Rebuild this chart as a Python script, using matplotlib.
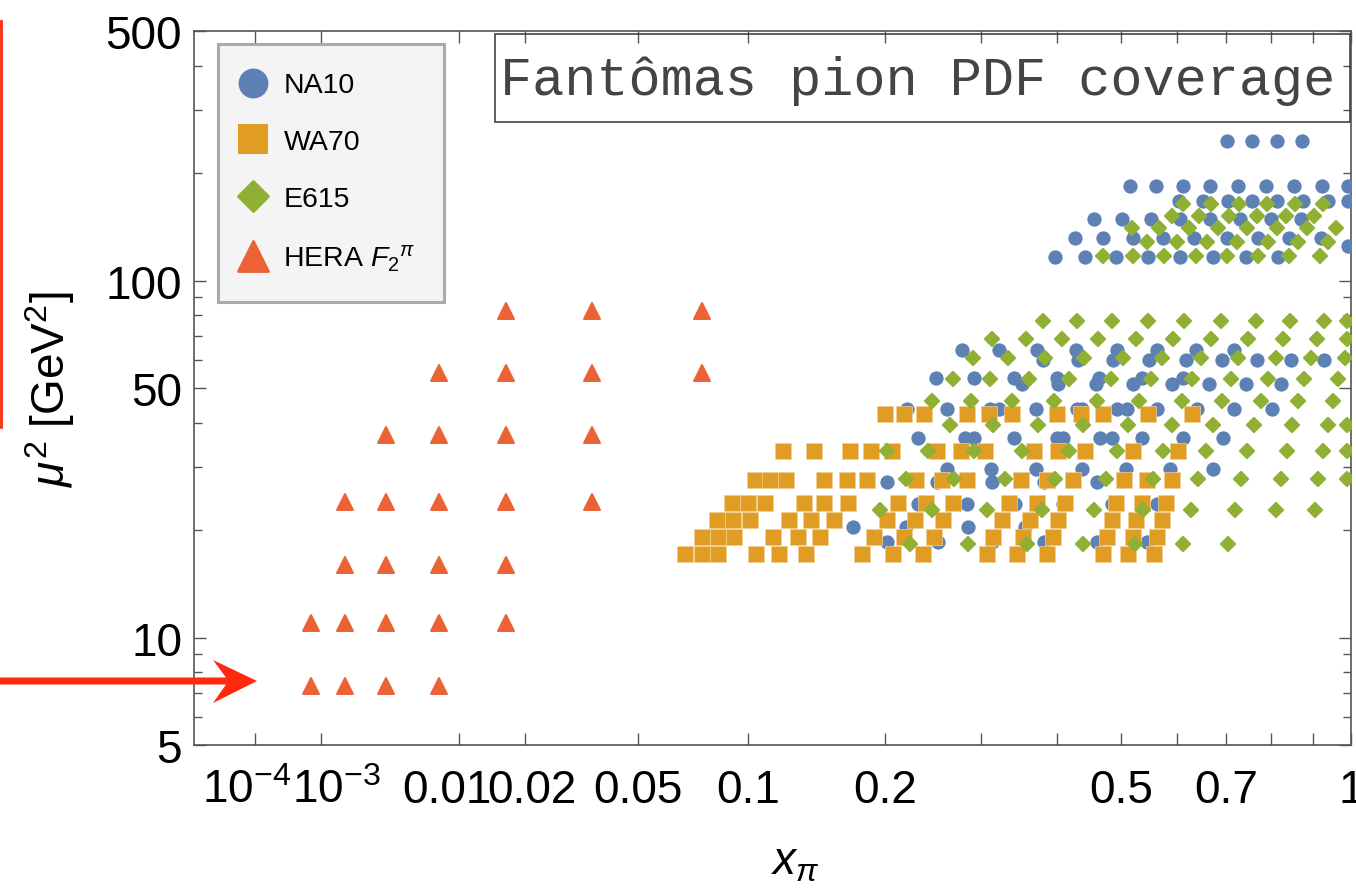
import numpy as np
import matplotlib.pyplot as plt
from matplotlib.lines import Line2D
from matplotlib.markers import MarkerStyle
from matplotlib.patches import Polygon, Rectangle
from matplotlib.transforms import ScaledTranslation

plt.rcParams["font.family"] = ["Liberation Sans", "DejaVu Sans"]
plt.rcParams["mathtext.fontset"] = "custom"
plt.rcParams["mathtext.rm"] = "Liberation Sans"
plt.rcParams["mathtext.it"] = "Liberation Sans:italic"
plt.rcParams["mathtext.bf"] = "Liberation Sans:bold"

BLUE = "#5e81b5"
ORANGE = "#e19c24"
GREEN = "#8fb032"
RED = "#eb6235"
ARROW_RED = "#ff2a0e"
FRAME = "#555555"

# each experiment: one mu^2 value per row, and the x_pi values in that row
NA10_MU2 = [245.5, 184.4, 167.4, 148.7, 131.6, 125.2, 116.6,
            64.0, 59.9, 53.3, 51.3, 43.7, 36.2, 29.7, 27.2, 23.7, 20.4, 18.5]
NA10_X = [
    [0.702, 0.756, 0.814, 0.874],
    [0.516, 0.562, 0.613, 0.666, 0.725, 0.788, 0.854, 0.924, 0.992],
    [0.605, 0.652, 0.704, 0.756, 0.814, 0.876, 0.939, 0.992],
    [0.456, 0.502, 0.553, 0.607, 0.666, 0.730, 0.800, 0.871],
    [0.427, 0.471, 0.521, 0.575, 0.634, 0.702, 0.770, 0.842, 0.921],
    [0.992],
    [0.397, 0.442, 0.492, 0.547, 0.607, 0.673, 0.743, 0.816],
    [0.278, 0.322, 0.372, 0.428, 0.494, 0.564, 0.638, 0.717],
    [0.380, 0.431, 0.487, 0.549, 0.618, 0.691, 0.767, 0.847, 0.929],
    [0.250, 0.292, 0.341, 0.400, 0.464, 0.537, 0.613],
    [0.352, 0.402, 0.459, 0.521, 0.592, 0.664, 0.743, 0.823],
    [0.220, 0.261, 0.311, 0.322, 0.371, 0.430, 0.437, 0.494, 0.511,
     0.564, 0.640, 0.717, 0.802],
    [0.231, 0.281, 0.292, 0.341, 0.400, 0.409, 0.466, 0.485, 0.537,
     0.613, 0.693],
    [0.261, 0.312, 0.371, 0.437, 0.509, 0.588, 0.673],
    [0.202, 0.251, 0.313, 0.382, 0.461],
    [0.231, 0.283, 0.342, 0.409, 0.485, 0.564],
    [0.172, 0.219, 0.285, 0.356],
    [0.202, 0.252, 0.313, 0.382, 0.461, 0.546],
]

WA70_MU2 = [42.3, 33.2, 27.7, 23.8, 21.4, 19.1, 17.1]
WA70_X = [
    [0.200, 0.217, 0.237, 0.284, 0.310, 0.339, 0.400, 0.436, 0.471,
     0.547, 0.630],
    [0.121, 0.142, 0.170, 0.187, 0.206, 0.251, 0.277, 0.305, 0.368,
     0.402, 0.442, 0.521, 0.603],
    [0.104, 0.113, 0.123, 0.150, 0.167, 0.184, 0.229, 0.256, 0.284,
     0.350, 0.386, 0.424, 0.505, 0.546, 0.592],
    [0.0915, 0.100, 0.110, 0.135, 0.150, 0.168, 0.212, 0.239, 0.268,
     0.335, 0.372, 0.412, 0.492, 0.537, 0.580],
    [0.0837, 0.0920, 0.101, 0.125, 0.140, 0.157, 0.202, 0.228, 0.257,
     0.326, 0.362, 0.402, 0.485, 0.526, 0.573],
    [0.0764, 0.0842, 0.0925, 0.115, 0.131, 0.147, 0.190, 0.217, 0.247,
     0.315, 0.353, 0.394, 0.477, 0.521, 0.564],
    [0.0687, 0.0764, 0.0842, 0.105, 0.119, 0.137, 0.180, 0.207, 0.236,
     0.307, 0.345, 0.386, 0.471, 0.512, 0.558],
]

E615_MU2 = [163.8, 151.9, 140.1, 127.9, 116.9,
            77.2, 68.6, 60.6, 53.0, 46.1, 39.4, 33.4, 27.8, 22.8, 18.3]
E615_X = [
    [0.613, 0.668, 0.728, 0.790, 0.857, 0.926],
    [0.592, 0.644, 0.706, 0.767, 0.835, 0.904],
    [0.519, 0.567, 0.624, 0.683, 0.745, 0.814, 0.886, 0.960],
    [0.546, 0.601, 0.660, 0.723, 0.793, 0.864, 0.939],
    [0.471, 0.521, 0.577, 0.638, 0.702, 0.770, 0.842, 0.919],
    [0.380, 0.429, 0.486, 0.548, 0.615, 0.688, 0.765, 0.844, 0.929, 0.988],
    [0.313, 0.357, 0.407, 0.463, 0.526, 0.594, 0.668, 0.747, 0.828,
     0.911, 0.989],
    [0.291, 0.333, 0.383, 0.441, 0.504, 0.573, 0.648, 0.725, 0.811,
     0.896, 0.984],
    [0.268, 0.311, 0.361, 0.418, 0.484, 0.553, 0.630, 0.710, 0.793,
     0.879, 0.965],
    [0.245, 0.288, 0.339, 0.396, 0.461, 0.531, 0.611, 0.691, 0.776,
     0.864, 0.952],
    [0.265, 0.315, 0.373, 0.439, 0.512, 0.592, 0.673, 0.761, 0.849,
     0.939, 0.989],
    [0.202, 0.241, 0.292, 0.352, 0.418, 0.494, 0.575, 0.658, 0.745,
     0.837, 0.926, 0.989],
    [0.219, 0.269, 0.330, 0.397, 0.476, 0.556, 0.642, 0.732, 0.823,
     0.914, 0.989],
    [0.195, 0.245, 0.307, 0.379, 0.456, 0.538, 0.628, 0.719, 0.811, 0.906],
    [0.223, 0.285, 0.358, 0.439, 0.524, 0.613, 0.704],
]

HERA_MU2 = [7.3, 11, 16, 24, 37, 55, 82]
HERA_X = [
    [0.00078, 0.00172, 0.00365, 0.00782],
    [0.00078, 0.00172, 0.00365, 0.00782, 0.0166],
    [0.00172, 0.00365, 0.00782, 0.0166],
    [0.00172, 0.00365, 0.00782, 0.0166, 0.0356],
    [0.00365, 0.00782, 0.0166, 0.0356],
    [0.00782, 0.0166, 0.0356, 0.0763],
    [0.0166, 0.0356, 0.0763],
]

X_TICKS = [1e-4, 1e-3, 0.01, 0.02, 0.05, 0.1, 0.2, 0.5, 0.7, 1]
X_TICK_LABELS = [r"$10^{-4}$", r"$10^{-3}$", "0.01", "0.02", "0.05",
                 "0.1", "0.2", "0.5", "0.7", "1"]
X_MINOR = [0.3, 0.4, 0.6, 0.8, 0.9]
Y_TICKS = [5, 10, 50, 100, 500]
Y_MINOR = [6, 7, 8, 9, 20, 30, 40, 60, 70, 80, 90, 200, 300, 400]

# sideways nudges (points) for the crowded labels at small x
X_LABEL_NUDGE = {r"$10^{-4}$": -6, r"$10^{-3}$": 11, "0.01": -9, "0.02": 5}

POWER = 0.32  # x axis is drawn in x**POWER


def flatten(mu2, rows):
    xs = np.concatenate([np.asarray(r, float) for r in rows])
    ys = np.concatenate([np.full(len(r), m, float) for m, r in zip(mu2, rows)])
    return xs, ys


def fwd(x):
    x = np.asarray(x, float)
    return np.sign(x) * np.abs(x) ** POWER


def inv(y):
    y = np.asarray(y, float)
    return np.sign(y) * np.abs(y) ** (1.0 / POWER)


fig = plt.figure(figsize=(13.56, 8.95), dpi=100)
ax = fig.add_axes([194 / 1356, 149 / 895, 1157 / 1356, 714 / 895])
ax.set_xscale("function", functions=(fwd, inv))
ax.set_yscale("log")
ax.set_xlim(0, 1)
ax.set_ylim(5, 500)

diamond = MarkerStyle("D", joinstyle="round")
triangle = MarkerStyle("^", joinstyle="round")

x, y = flatten(NA10_MU2, NA10_X)
ax.plot(x, y, ls="none", marker="o", ms=10.3, color=BLUE, mew=0, zorder=3)
x, y = flatten(WA70_MU2, WA70_X)
ax.plot(x, y, ls="none", marker="s", ms=11.3, color=ORANGE, mec="#f0cf95",
        mew=0.5, zorder=4)
x, y = flatten(E615_MU2, E615_X)
ax.plot(x, y, ls="none", marker=diamond, ms=7.4, color=GREEN, mec=GREEN,
        mew=1.6, zorder=5)
x, y = flatten(HERA_MU2, HERA_X)
ax.plot(x, y, ls="none", marker=triangle, ms=11, color=RED, mec=RED,
        mew=1.4, zorder=5)

# frame, ticks
for sp in ax.spines.values():
    sp.set_color(FRAME)
    sp.set_linewidth(1.2)
ax.set_xticks(X_TICKS)
ax.set_xticklabels(X_TICK_LABELS)
ax.set_xticks(X_MINOR, minor=True)
ax.set_yticks(Y_TICKS)
ax.set_yticklabels([str(v) for v in Y_TICKS])
ax.set_yticks(Y_MINOR, minor=True)
ax.yaxis.set_minor_formatter(plt.NullFormatter())
ax.tick_params(which="both", direction="in", top=True, right=True,
               color=FRAME, width=1.0, labelsize=33)
ax.tick_params(axis="x", which="both", length=8.6, pad=41)
ax.tick_params(axis="y", which="major", length=8.6, pad=8.6)
ax.tick_params(axis="y", which="minor", length=5.8)
for lab in ax.get_xticklabels():
    lab.set_verticalalignment("baseline")
    dx = X_LABEL_NUDGE.get(lab.get_text(), 0)
    if dx:
        lab.set_transform(lab.get_transform()
                          + ScaledTranslation(dx / 72, 0, fig.dpi_scale_trans))

ax.set_xlabel(r"$x_\pi$", fontsize=33)
ax.xaxis.set_label_coords(0.520, -0.133)
ax.set_ylabel(r"$\mu^2$ [GeV$^2$]", fontsize=33)
ax.yaxis.set_label_coords(-0.101, 0.50)

# legend
handles = [
    Line2D([], [], ls="none", marker="o", ms=21.5, color=BLUE, mew=0),
    Line2D([], [], ls="none", marker="s", ms=21.5, color=ORANGE, mew=0),
    Line2D([], [], ls="none", marker=diamond, ms=15, color=GREEN,
           mec=GREEN, mew=2),
    Line2D([], [], ls="none", marker=triangle, ms=21, color=RED,
           mec=RED, mew=2),
]
labels = ["NA10", "WA70", "E615", r"HERA $F_2{}^{\pi}$"]
leg = ax.legend(handles, labels, loc="upper left",
                bbox_to_anchor=(0.0207, 0.9818), borderaxespad=0,
                fontsize=20.5, frameon=True, fancybox=False, framealpha=1,
                borderpad=1.0, labelspacing=1.08, handlelength=0.49,
                handletextpad=0.81)
leg.get_frame().set_facecolor("#f4f4f4")
leg.get_frame().set_edgecolor("#aaaaaa")
leg.get_frame().set_linewidth(2.2)
leg.set_zorder(6)

# caption box
ax.add_patch(Rectangle((0.2602, 0.8725), 0.7389, 0.1233,
                       transform=ax.transAxes, fill=False,
                       edgecolor="#444444", lw=1.2, zorder=6))
ax.text(0.6258, 0.9118, "Fantômas pion PDF coverage",
        transform=ax.transAxes, ha="center", va="baseline",
        fontsize=38.5, family="Liberation Mono", color="#444444", zorder=6)

# red guide marks at the left edge
fig.add_artist(Line2D([0.0009, 0.0009], [1 - 22 / 895, 1 - 428 / 895],
                      transform=fig.transFigure, color=ARROW_RED, lw=2.0))
arrow_px = [(0, 678.5), (226, 678.5), (213, 661), (257, 682),
            (213, 704), (226, 685.5), (0, 685.5)]
fig.add_artist(Polygon([(px / 1356, 1 - py / 895) for px, py in arrow_px],
                       closed=True, transform=fig.transFigure,
                       facecolor=ARROW_RED, edgecolor="none"))

fig.savefig("out.png", dpi=100)
